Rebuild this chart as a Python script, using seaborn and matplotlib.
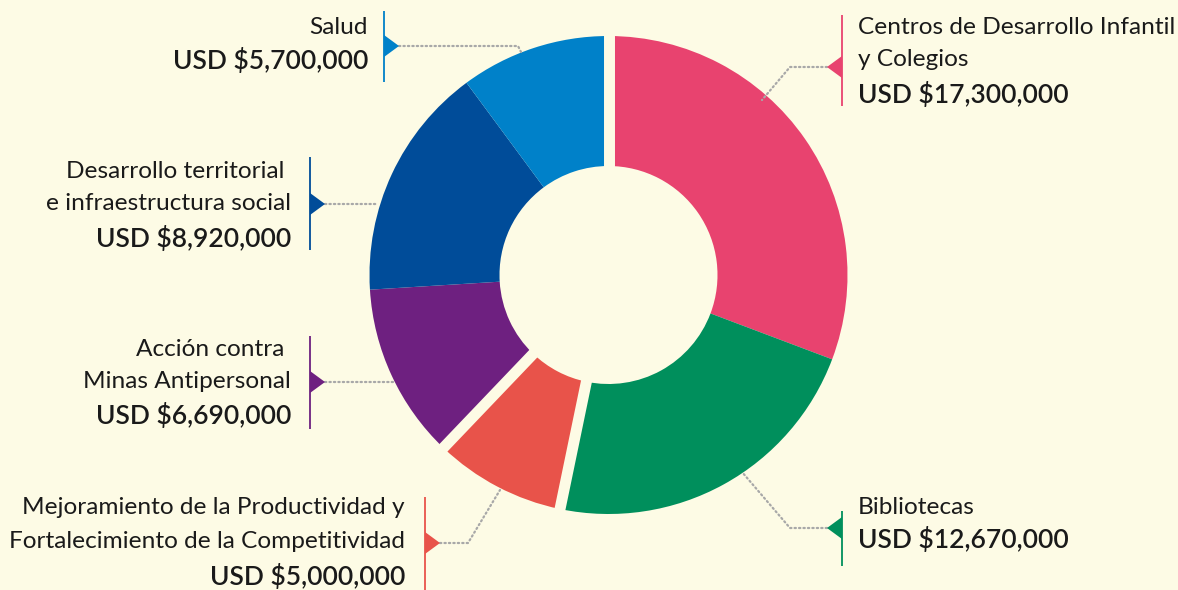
import numpy as np
import matplotlib
matplotlib.use("Agg")
import matplotlib.pyplot as plt
import seaborn as sns

# ---------------- data ----------------
categories = [
    "Centros de Desarrollo Infantil\ny Colegios",
    "Bibliotecas",
    "Mejoramiento de la Productividad y\nFortalecimiento de la Competitividad",
    "Acción contra \nMinas Antipersonal",
    "Desarrollo territorial \ne infraestructura social",
    "Salud",
]
values_usd = [17_300_000, 12_670_000, 5_000_000, 6_690_000, 8_920_000, 5_700_000]
colors_hex = ["#E8436F", "#008F5C", "#E8534A", "#6E2080", "#004C99", "#0081C9"]
value_labels = [f"USD ${v:,.0f}" for v in values_usd]

# ---------------- style ----------------
BG = "#FDFBE5"
TXT = "#1A1A1A"
DOT = "#A8A8A8"
sns.set_theme(style="white")
plt.rcParams['font.family'] = ['Lato', 'DejaVu Sans']
palette = sns.color_palette(colors_hex)

W, H = 1178, 590
fig = plt.figure(figsize=(W / 100, H / 100), dpi=100, facecolor=BG)
ax = fig.add_axes([0, 0, 1, 1])
ax.set_facecolor(BG)


def Y(py):
    return H - py


cx, cy = 608.5, Y(275)
R, R_IN = 239, 109

ax.pie(values_usd, colors=palette, startangle=90, counterclock=False,
       radius=R, center=(cx, cy),
       wedgeprops=dict(width=R - R_IN, linewidth=0))

# gaps between selected wedges (boundary indices in cumulative order)
gap_boundaries = [0, 2, 3]
total = float(sum(values_usd))
cum = np.concatenate([[0], np.cumsum(values_usd)])
for b in gap_boundaries:
    th = np.deg2rad(90 - 360 * cum[b] / total)
    ax.plot([cx + (R_IN - 4) * np.cos(th), cx + (R + 4) * np.cos(th)],
            [cy + (R_IN - 4) * np.sin(th), cy + (R + 4) * np.sin(th)],
            color=BG, lw=7.9, solid_capstyle='butt', zorder=5)

# ---------------- label layout (pixel positions) ----------------
layout = [
    dict(side='R', bx=842, by=(15, 106), ty=67, lead=[(827, 67), (790, 67), (762, 100)],
         tx=858, name_y=[28, 60], val_y=95),
    dict(side='R', bx=842, by=(511, 566), ty=528, lead=[(827, 528), (790, 528), (742, 472)],
         tx=858, name_y=[508], val_y=540),
    dict(side='L', bx=425, by=(497, 590), ty=543, lead=[(440, 543), (468, 543), (500, 490)],
         tx=405, name_y=[508, 541], val_y=577),
    dict(side='L', bx=310, by=(336, 429), ty=382, lead=[(325, 382), (394, 382)],
         tx=291, name_y=[350, 381], val_y=416),
    dict(side='L', bx=310, by=(157, 250), ty=204, lead=[(325, 204), (378, 204)],
         tx=291, name_y=[172, 204], val_y=239),
    dict(side='L', bx=384, by=(11, 82), ty=46, lead=[(399, 46), (518, 46), (521, 52)],
         tx=368, name_y=[28], val_y=61),
]

TW, TH = 15, 11
for name, val, col, lay in zip(categories, value_labels, palette, layout):
    bx = lay['bx']
    ax.plot([bx, bx], [Y(lay['by'][0]), Y(lay['by'][1])], color=col, lw=1.3,
            solid_capstyle='butt', zorder=6)
    d = TW if lay['side'] == 'L' else -TW
    ty = lay['ty']
    ax.fill([bx, bx + d, bx], [Y(ty - TH), Y(ty), Y(ty + TH)], color=col, lw=0, zorder=6)
    xs = [p[0] for p in lay['lead']]
    ys = [Y(p[1]) for p in lay['lead']]
    ax.plot(xs, ys, color=DOT, lw=1.6, ls=(0, (0.6, 1.4)), dash_capstyle='round', zorder=4)
    ha = 'right' if lay['side'] == 'L' else 'left'
    for line, ly in zip(name.split("\n"), lay['name_y']):
        ax.text(lay['tx'], Y(ly), line, ha=ha, va='center', fontsize=17.6,
                fontweight='normal', color=TXT)
    ax.text(lay['tx'], Y(lay['val_y']), val, ha=ha, va='center', fontsize=19,
            fontweight='semibold', color=TXT)

ax.set_xlim(0, W)
ax.set_ylim(0, H)
ax.set_aspect('auto')
ax.axis('off')

fig.savefig("out.png", dpi=100, facecolor=BG)
